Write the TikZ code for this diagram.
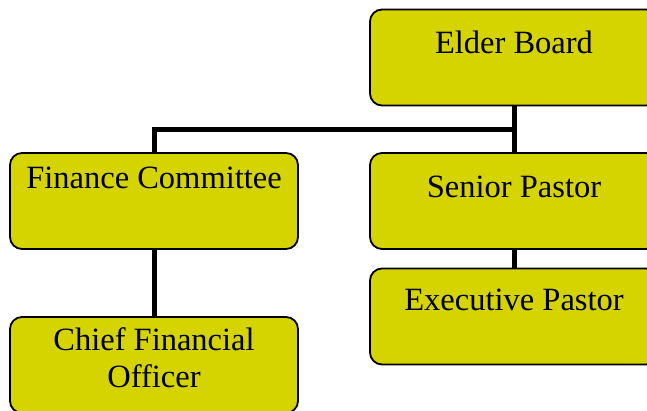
\documentclass[tikz,border=0pt]{standalone}
\usepackage{fontspec}
\setmainfont{Liberation Serif}
\usetikzlibrary{backgrounds}
\definecolor{boxfill}{RGB}{213,211,0}

\begin{document}
\begin{tikzpicture}
[x=1pt,y=1pt,
box/.style={draw,line width=1.8pt,rounded corners=12pt,fill=boxfill,minimum width=288pt,minimum height=96pt,inner sep=0pt},
txt/.style={anchor=base,font=\fontsize{32.5}{37}\selectfont,align=center},
link/.style={line width=5pt}]
\useasboundingbox (0,0) rectangle (647,-411);
\clip (0,0) rectangle (647,-411);
\coordinate (bar) at (514,-130);
\node[box] (elder) at (514,-57.5) {};
\node[box] (finance) at (154,-201) {};
\node[box] (senior) at (514,-201) {};
\node[box] (exec) at (514,-316.5) {};
\node[box] (cfo) at (154,-365) {};
\begin{scope}[on background layer]
\draw[link] (elder) -- (senior) (senior) -- (exec) (finance) -- (cfo);
\draw[link] (finance.north) |- (bar);
\end{scope}
\node[txt] (elderlbl) at ([yshift=-45pt]elder.north) {Elder Board};
\node[txt] (financelbl) at ([yshift=-36pt]finance.north) {Finance Committee};
\node[txt] (seniorlbl) at ([yshift=-45pt]senior.north) {Senior Pastor};
\node[txt] (execlbl) at ([yshift=-43pt]exec.north) {Executive Pastor};
\node[txt] (cfolbl) at ([yshift=-71pt]cfo.north) {Chief Financial\\Officer};
\end{tikzpicture}
\end{document}
